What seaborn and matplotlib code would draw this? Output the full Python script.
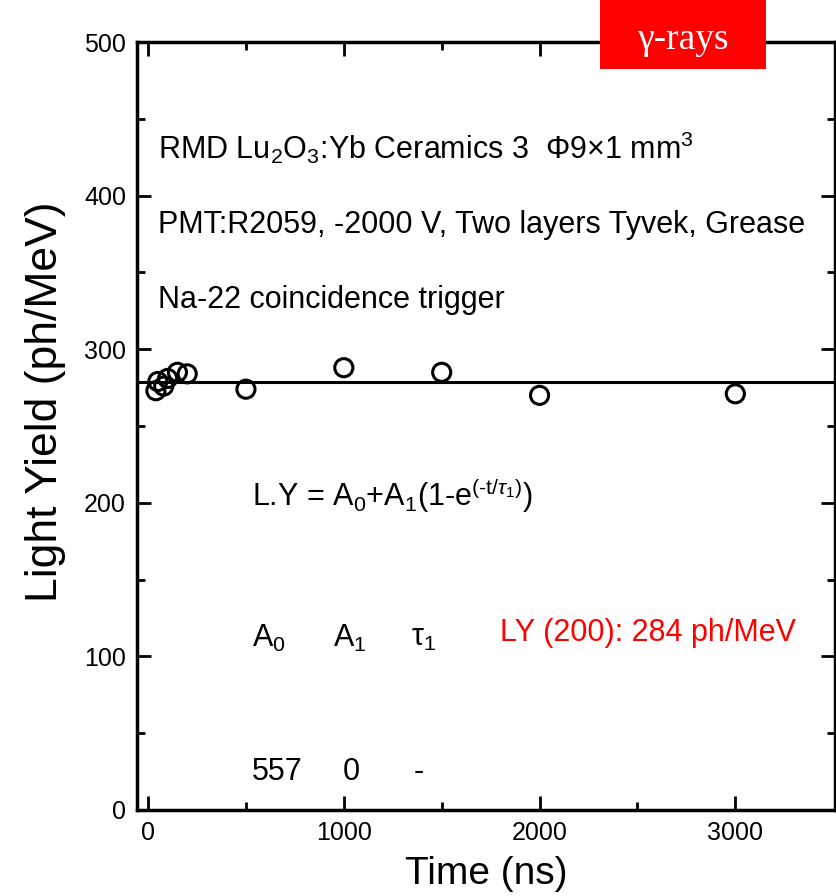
import matplotlib
matplotlib.use("Agg")
import matplotlib.pyplot as plt
from matplotlib.patches import Rectangle
import seaborn as sns
import pandas as pd

# Measured light yield vs. integration time
time_ns = [40, 50, 80, 100, 150, 200, 500, 1000, 1500, 2000, 3000]
light_yield = [273, 279, 276, 281, 285, 284, 274, 288, 285, 270, 271]
fit_level = 279

x_ticks = [0, 1000, 2000, 3000]
y_ticks = [0, 100, 200, 300, 400, 500]

sns.set_style("ticks")
plt.rcParams["font.family"] = ["Liberation Sans", "DejaVu Sans"]
plt.rcParams["mathtext.fontset"] = "custom"
plt.rcParams["mathtext.rm"] = "Liberation Sans"
plt.rcParams["mathtext.it"] = "Liberation Sans:italic"
plt.rcParams["text.color"] = "black"
plt.rcParams["axes.labelcolor"] = "black"

df = pd.DataFrame({"t": time_ns, "ly": light_yield})

fig = plt.figure(figsize=(8.36, 8.96), dpi=100)
ax = fig.add_axes([0.164, 0.096, 0.835, 0.857])

ax.axhline(fit_level, color="black", lw=2.2, zorder=1)
sns.scatterplot(data=df, x="t", y="ly", ax=ax, marker="o", s=170,
                facecolor="none", edgecolor="black", linewidth=2.2, zorder=3)

ax.set_xlim(-56, 3510)
ax.set_ylim(0, 500)
ax.set_xticks(x_ticks)
ax.set_yticks(y_ticks)
ax.set_yticks([50, 150, 250, 350, 450], minor=True)
ax.set_xticks([500, 1500, 2500], minor=True)
ax.tick_params(axis="both", which="both", direction="in", top=True, right=True,
               labelsize=18, width=2, pad=8, colors="black")
ax.tick_params(axis="both", which="major", length=10)
ax.tick_params(axis="both", which="minor", length=6)
for sp in ax.spines.values():
    sp.set_linewidth(2.5)
    sp.set_color("black")
    sp.set_visible(True)

ax.set_xlabel("Time (ns)", fontsize=28, labelpad=8)
ax.set_ylabel("Light Yield (ph/MeV)", fontsize=32)
ax.yaxis.set_label_coords(-0.102, 0.531)

fs = 22
ax.text(51, 431, r"RMD Lu$_2$O$_3$:Yb Ceramics 3  Φ9×1 mm$^3$", fontsize=fs, va="center")
ax.text(51, 381, "PMT:R2059, -2000 V, Two layers Tyvek, Grease", fontsize=fs, va="center")
ax.text(51, 332, "Na-22 coincidence trigger", fontsize=fs, va="center")
ax.text(531, 205, r"L.Y = A$_0$+A$_1$(1-e$^{(\mathrm{‐t/}τ_1)}$)", fontsize=fs, va="center")
ax.text(531, 112, r"A$_0$", fontsize=fs, va="center")
ax.text(945, 112, r"A$_1$", fontsize=fs, va="center")
ax.text(1344, 112, r"τ$_1$", fontsize=fs, va="center")
ax.text(1799, 115, "LY (200): 284 ph/MeV", fontsize=fs, va="center", color="red")
ax.text(531, 25, "557", fontsize=fs, va="center")
ax.text(996, 25, "0", fontsize=fs, va="center")
ax.text(1359, 25, "-", fontsize=fs, va="center")

# Red label box above the frame
fig.add_artist(Rectangle((600 / 836, 1 - 69 / 896), 166 / 836, 69 / 896,
                         transform=fig.transFigure, fc="red", ec="none", zorder=5))
fig.text(683 / 836, 1 - 40 / 896, "γ-rays", fontsize=27, color="white",
         ha="center", va="center", zorder=6,
         family=["Liberation Serif", "DejaVu Serif"])

fig.savefig("out.png", dpi=100)
